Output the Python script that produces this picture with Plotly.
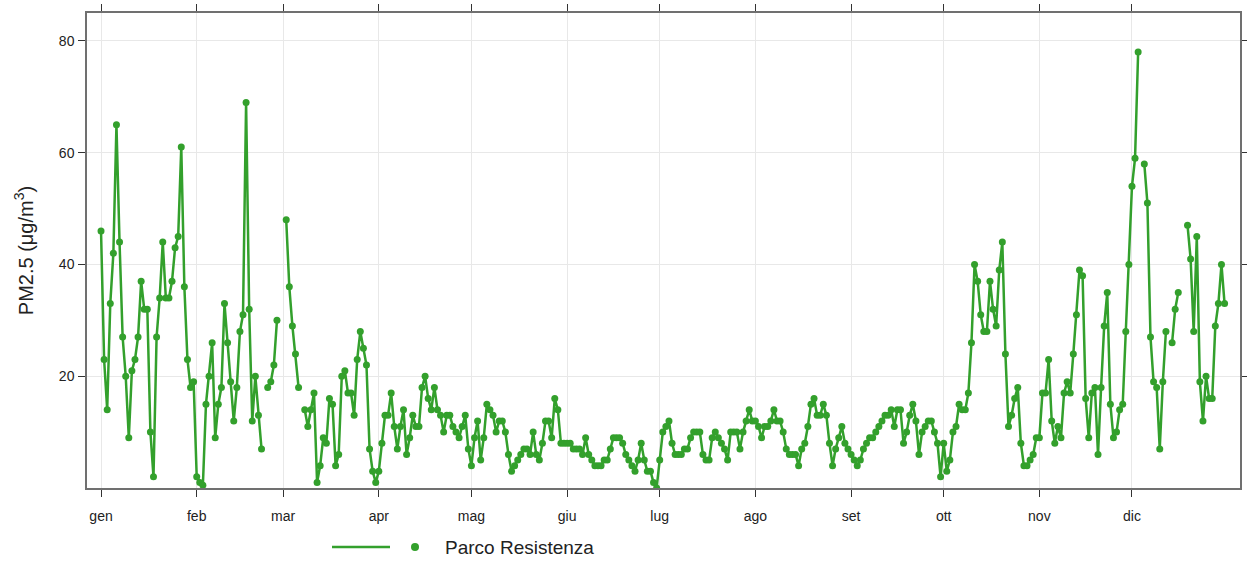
import plotly.graph_objects as go
import pandas as pd

# ---- data (daily PM2.5, µg/m3) ----
month_labels = ["gen", "feb", "mar", "apr", "mag", "giu",
                "lug", "ago", "set", "ott", "nov", "dic"]
series_name = "Parco Resistenza"

jan = [46, 23, 14, 33, 42, 65, 44, 27, 20, 9, 21, 23, 27, 37, 32, 32, 10, 2,
       27, 34, 44, 34, 34, 37, 43, 45, 61, 36, 23, 18, 19]
feb = [2, 1, 0.5, 15, 20, 26, 9, 15, 18, 33, 26, 19, 12, 18, 28, 31, 69, 32,
       12, 20, 13, 7, None, 18, 19, 22, 30, None]
mar = [None, 48, 36, 29, 24, 18, None, 14, 11, 14, 17, 1, 4, 9, 8, 16, 15, 4,
       6, 20, 21, 17, 17, 13, 23, 28, 25, 22, 7, 3, 1]
apr = [3, 8, 13, 13, 17, 11, 7, 11, 14, 6, 9, 13, 11, 11, 18, 20, 16, 14, 18,
       14, 13, 10, 13, 13, 11, 10, 9, 11, 13, 7]
may = [4, 9, 12, 5, 9, 15, 14, 13, 10, 12, 12, 10, 6, 3, 4, 5, 6, 7, 7, 6, 10,
       6, 5, 8, 12, 12, 9, 16, 14, 8, 8]
jun = [8, 8, 7, 7, 7, 6, 9, 6, 5, 4, 4, 4, 5, 5, 7, 9, 9, 9, 8, 6, 5, 4, 3, 5,
       8, 5, 3, 3, 1, 0]
jul = [5, 10, 11, 12, 8, 6, 6, 6, 7, 7, 9, 10, 10, 10, 6, 5, 5, 9, 10, 9, 8, 7,
       5, 10, 10, 10, 7, 10, 12, 14, 12]
aug = [12, 11, 9, 11, 11, 12, 14, 12, 12, 10, 7, 6, 6, 6, 4, 7, 8, 11, 15, 16,
       13, 13, 15, 13, 8, 4, 7, 9, 11, 8, 7]
sep = [6, 5, 4, 5, 7, 8, 9, 9, 10, 11, 12, 13, 13, 14, 11, 14, 14, 8, 10, 13,
       15, 12, 6, 10, 11, 12, 12, 10, 8, 2]
oct_ = [8, 3, 5, 10, 11, 15, 14, 14, 17, 26, 40, 37, 31, 28, 28, 37, 32, 29, 39,
        44, 24, 11, 13, 16, 18, 8, 4, 4, 5, 6, 9]
nov = [9, 17, 17, 23, 12, 8, 11, 9, 17, 19, 17, 24, 31, 39, 38, 16, 9, 17, 18,
       6, 18, 29, 35, 15, 9, 10, 14, 15, 28, 40]
dec = [54, 59, 78, None, 58, 51, 27, 19, 18, 7, 19, 28, None, 26, 32, 35, None,
       None, 47, 41, 28, 45, 19, 12, 20, 16, 16, 29, 33, 40, 33]

values = jan + feb + mar + apr + may + jun + jul + aug + sep + oct_ + nov + dec
dates = pd.date_range("2023-01-01", periods=len(values), freq="D")
month_starts = pd.date_range("2023-01-01", periods=12, freq="MS")

GREEN = "#33a02c"
FONT = "Liberation Sans, Arial, sans-serif"

fig = go.Figure()
fig.add_trace(go.Scatter(
    x=dates, y=values, mode="lines+markers", name=series_name,
    line=dict(color=GREEN, width=2.5),
    marker=dict(color=GREEN, size=7),
    connectgaps=False, showlegend=False,
))

# plot area: x 87..1240, y 13..488 (px)
L, R, T, B = 87, 1240, 13, 488
W, H = 1247, 561

def px_x(p):
    return (p - L) / (R - L)

def px_y(p):
    return (B - p) / (B - T)

ly = px_y(547)
shapes = [
    dict(type="line", xref="paper", yref="paper",
         x0=px_x(332), x1=px_x(390), y0=ly, y1=ly,
         line=dict(color=GREEN, width=2.5)),
    dict(type="circle", xref="paper", yref="paper",
         xsizemode="pixel", ysizemode="pixel",
         xanchor=px_x(415), yanchor=ly, x0=-4, x1=4, y0=-4, y1=4,
         fillcolor=GREEN, line=dict(color=GREEN, width=0)),
]

fig.update_layout(
    width=W, height=H,
    margin=dict(l=L, r=W - R, t=T, b=H - B, autoexpand=False),
    paper_bgcolor="white", plot_bgcolor="white",
    font=dict(family=FONT, size=12, color="#222222"),
    shapes=shapes,
    annotations=[dict(text=series_name, xref="paper", yref="paper",
                      x=px_x(443), y=ly, xanchor="left", yanchor="middle",
                      showarrow=False, font=dict(size=19, color="#222222"))],
)

fig.update_xaxes(
    range=["2022-12-27 11:00", "2024-01-05 00:00"],
    tickvals=month_starts, ticktext=month_labels,
    showgrid=True, gridcolor="#e8e8e8", gridwidth=1,
    showline=True, linecolor="#707070", linewidth=1.5, mirror="ticks",
    ticks="outside", ticklen=7, tickcolor="#333333", tickwidth=1,
    tickfont=dict(size=14, color="#222222"), ticklabelstandoff=7,
    zeroline=False,
)
fig.update_yaxes(
    range=[0, 85],
    tickvals=[20, 40, 60, 80],
    showgrid=True, gridcolor="#e8e8e8", gridwidth=1,
    showline=True, linecolor="#707070", linewidth=1.5, mirror="ticks",
    ticks="outside", ticklen=7, tickcolor="#333333", tickwidth=1,
    tickfont=dict(size=14, color="#222222"), ticklabelstandoff=1,
    title=dict(text="PM2.5 (μg/m<sup>3</sup>)", font=dict(size=20, color="#222222"),
               standoff=20),
    zeroline=False,
)

fig.write_html("out.html", post_script="document.body.style.margin='0';",
               config={"displayModeBar": False})
